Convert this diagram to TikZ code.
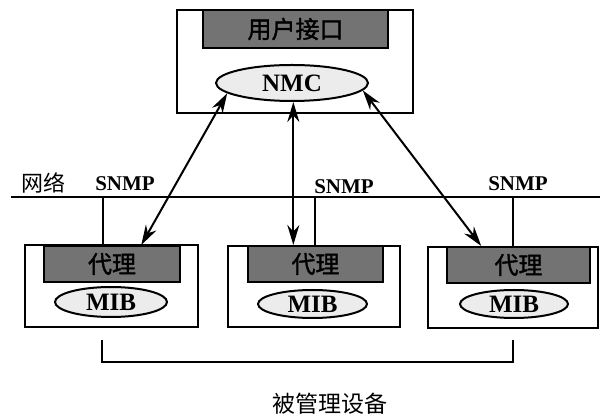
\documentclass[tikz,border=0pt]{standalone}
\usepackage{fontspec}
\setmainfont{Liberation Serif}
\newfontfamily\cjk{Noto Sans CJK SC}
\newfontfamily\cjkb{Noto Sans CJK SC}[FakeBold=1.5]
\usetikzlibrary{shapes}
\usetikzlibrary{positioning}
\usetikzlibrary{arrows.meta}
\tikzset{
    boxn/.style = {rectangle, line width=1pt, draw=black, inner sep=0pt},
    barg/.style = {rectangle, line width=1pt, draw=black, fill=black!55, inner sep=0pt, minimum height=18pt, font=\cjkb\fontsize{12}{12}\selectfont},
    elln/.style = {ellipse, line width=1pt, draw=black, fill=gray!15, inner sep=0pt, font=\bfseries\fontsize{12.5}{12.5}\selectfont},
    labn/.style = {inner sep=0pt, font=\bfseries\fontsize{10.5}{10.5}\selectfont},
    edgen/.style = {-, line width=1pt, black},
    edgea/.style = {{Stealth[length=10pt,width=6pt]}-{Stealth[length=10pt,width=6pt]}, line width=1pt, black}
}
\begin{document}
\begin{tikzpicture}[x=0.5pt, y=-0.5pt]
  \useasboundingbox (0,0) rectangle (600,416);
  % manager
  \node[boxn, minimum width=118pt, minimum height=51.5pt] (mgr) at (295,61.5) {};
  \node[barg, minimum width=92.5pt, minimum height=19pt] (ui) at (295.5,29) {用户接口};
  \node[elln, minimum width=76pt, minimum height=18pt] (nmc) at (292,83) {NMC};
  % network
  \coordinate (netw) at (11,197);
  \coordinate (nete) at (600,197);
  \draw[edgen] (netw) -- (nete);
  \node[font=\cjk\fontsize{11}{11}\selectfont, inner sep=0pt] (net) at (43,183) {网络};
  \node[labn] (snmp1) at (125,184) {SNMP};
  \node[labn] (snmp2) at (344,187) {SNMP};
  \node[labn] (snmp3) at (518,184) {SNMP};
  % managed devices
  \node[boxn, minimum width=86.5pt, minimum height=41pt] (dev1) at (111.5,286) {};
  \node[barg, minimum width=68pt] (bar1) at (112,264) {代理};
  \node[elln, minimum width=56pt, minimum height=15pt] (mib1) at (111,302) {MIB};
  \node[boxn, minimum width=86pt, minimum height=40.5pt] (dev2) at (314,286.5) {};
  \node[barg, minimum width=67.5pt] (bar2) at (315.5,264) {代理};
  \node[elln, minimum width=54.5pt, minimum height=14pt] (mib2) at (312.5,304) {MIB};
  \node[boxn, minimum width=85pt, minimum height=40.5pt] (dev3) at (513,287.5) {};
  \node[barg, minimum width=71.5pt] (bar3) at (518.5,265) {代理};
  \node[elln, minimum width=54pt, minimum height=14pt] (mib3) at (514,304) {MIB};
  % taps
  \coordinate (tap1) at (103,197);
  \coordinate (tap2) at (315,197);
  \coordinate (tap3) at (513,197);
  \draw[edgen] (tap1) -- (tap1 |- dev1.north);
  \draw[edgen] (tap2) -- (tap2 |- dev2.north);
  \draw[edgen] (tap3) -- (tap3 |- dev3.north);
  % snmp exchanges
  \draw[edgea] (nmc.189) -- (bar1.33);
  \draw[edgea] (nmc.-86) -- (nmc.-86 |- bar2.north);
  \draw[edgea] (nmc.-6) -- (bar3.153);
  % bracket
  \coordinate (brl) at (102,340);
  \coordinate (brr) at (513,340);
  \draw[edgen] (brl) -- ++(0,22) -| (brr);
  \node[font=\cjk\fontsize{11.5}{11.5}\selectfont, inner sep=0pt] (devs) at (330,404) {被管理设备};
\end{tikzpicture}
\end{document}
